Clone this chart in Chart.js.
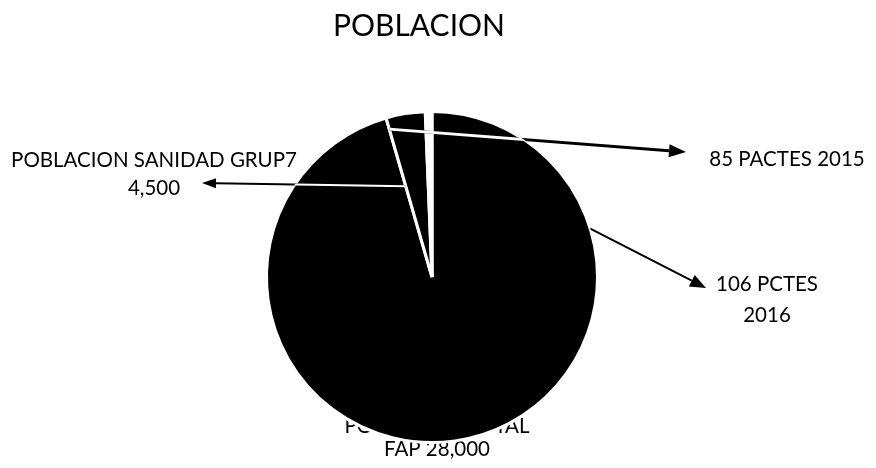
<!DOCTYPE html>
<html>
<head>
<meta charset="utf-8">
<title>POBLACION</title>
<script src="https://cdn.jsdelivr.net/npm/chart.js@4/dist/chart.umd.min.js"></script>
<style>
  html, body { margin: 0; padding: 0; background: #ffffff; }
  #wrap { width: 876px; height: 468px; position: relative; }
</style>
</head>
<body>
<div id="wrap"><canvas id="chartPoblacion"></canvas></div>
<script>
const chartTitle = "POBLACION";
const categories = ["POBLACION TOTAL FAP", "POBLACION SANIDAD GRUP7", "PACTES 2015", "PCTES 2016"];
// slice sizes (angles), the callout texts keep the printed figures
const values = [28000, 1120, 85, 106];
const sliceColors = ["#000000", "#000000", "#ffffff", "#ffffff"];

const fontFamily = "Lato, 'Open Sans', sans-serif";

/* callout texts + arrows; arrow tails are taken from the arc elements */
const callouts = [
  { slice: 0, lines: ["POBLACION TOTAL", "FAP 28,000"], x: 437, y: 433, gap: 23, behind: true },
  { slice: 1, lines: ["POBLACION SANIDAD GRUP7", "4,500"], x: 154, y: 167, gap: 28,
    arrow: { edge: "start", rFrac: 0.57, tip: [202, 183], width: 2, head: [14, 10] } },
  { slice: 2, lines: ["85 PACTES 2015"], x: 787, y: 166, gap: 28,
    arrow: { edge: "start", sliceRef: 1, rFrac: 0.93, tip: [686, 152], width: 3, head: [17, 13] } },
  { slice: 3, lines: ["106 PCTES", "2016"], x: 767, y: 291, gap: 31,
    arrow: { angleDeg: -17, rFrac: 1.0, tip: [706, 288], width: 2, head: [16, 13] } }
];

function drawArrow(ctx, x0, y0, x1, y1, width, head, cx, cy, r) {
  const ang = Math.atan2(y1 - y0, x1 - x0);
  const bx = x1 - Math.cos(ang) * head[0];
  const by = y1 - Math.sin(ang) * head[0];
  ctx.save();
  ctx.lineCap = "butt";
  ctx.lineWidth = width;
  ctx.strokeStyle = "#000";
  ctx.beginPath();
  ctx.moveTo(x0, y0);
  ctx.lineTo(bx, by);
  ctx.stroke();
  // inside the black pie the line shows up white
  ctx.save();
  ctx.beginPath();
  ctx.arc(cx, cy, r, 0, Math.PI * 2);
  ctx.clip();
  ctx.strokeStyle = "#fff";
  ctx.beginPath();
  ctx.moveTo(x0, y0);
  ctx.lineTo(bx, by);
  ctx.stroke();
  ctx.restore();
  ctx.fillStyle = "#000";
  ctx.beginPath();
  ctx.moveTo(x1, y1);
  ctx.lineTo(bx + Math.sin(ang) * head[1] / 2, by - Math.cos(ang) * head[1] / 2);
  ctx.lineTo(bx - Math.sin(ang) * head[1] / 2, by + Math.cos(ang) * head[1] / 2);
  ctx.closePath();
  ctx.fill();
  ctx.restore();
}

function drawLines(ctx, c) {
  ctx.save();
  ctx.fillStyle = "#000";
  ctx.font = "20.5px " + fontFamily;
  ctx.textAlign = "center";
  ctx.textBaseline = "alphabetic";
  c.lines.forEach((t, i) => ctx.fillText(t, c.x, c.y + i * c.gap));
  ctx.restore();
}

const calloutPlugin = {
  id: "callouts",
  beforeDatasetsDraw(chart) {
    const ctx = chart.ctx;
    ctx.save();
    ctx.fillStyle = "#000";
    ctx.font = "30px " + fontFamily;
    ctx.textAlign = "center";
    ctx.textBaseline = "alphabetic";
    ctx.fillText(chartTitle, 419, 36);
    ctx.restore();
    callouts.filter(c => c.behind).forEach(c => drawLines(ctx, c));
  },
  afterDatasetsDraw(chart) {
    const ctx = chart.ctx;
    const arcs = chart.getDatasetMeta(0).data;
    const cx = arcs[0].x, cy = arcs[0].y, r = arcs[0].outerRadius;
    callouts.filter(c => !c.behind).forEach(c => {
      drawLines(ctx, c);
      const a = c.arrow;
      if (!a) return;
      let ang;
      if (a.angleDeg !== undefined) ang = a.angleDeg * Math.PI / 180;
      else {
        const el = arcs[a.sliceRef !== undefined ? a.sliceRef : c.slice];
        ang = a.edge === "start" ? el.startAngle : el.endAngle;
      }
      const x0 = cx + Math.cos(ang) * r * a.rFrac;
      const y0 = cy + Math.sin(ang) * r * a.rFrac;
      drawArrow(ctx, x0, y0, a.tip[0], a.tip[1], a.width, a.head, cx, cy, r);
    });
  }
};

new Chart(document.getElementById("chartPoblacion"), {
  type: "pie",
  data: {
    labels: categories,
    datasets: [
      {
        data: values,
        backgroundColor: sliceColors,
        borderColor: "#ffffff",
        borderWidth: 3
      }
    ]
  },
  options: {
    responsive: true,
    maintainAspectRatio: false,
    animation: false,
    layout: { padding: { top: 110, bottom: 24, left: 0, right: 12 } },
    plugins: {
      legend: { display: false },
      title: { display: false },
      tooltip: { enabled: false }
    }
  },
  plugins: [calloutPlugin]
});
</script>
</body>
</html>
